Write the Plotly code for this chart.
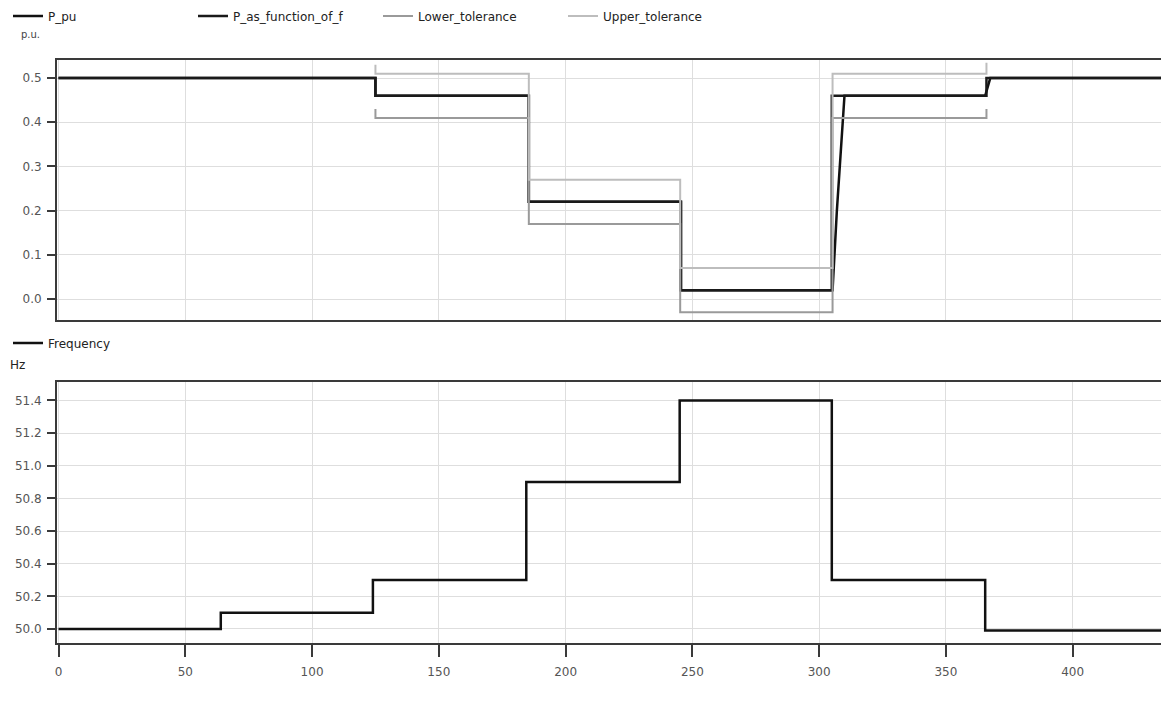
import plotly.graph_objects as go
from plotly.subplots import make_subplots

# ---- data ----
t_p_expected = [0, 125, 185.5, 245.5, 305, 366, 438]
p_expected = [0.5, 0.46, 0.22, 0.02, 0.46, 0.5, 0.5]

t_p_meas = [0, 125, 125, 185.5, 185.5, 245.5, 245.5, 305.3, 307, 310, 365.5, 367.5, 438]
p_meas = [0.5, 0.5, 0.46, 0.46, 0.22, 0.22, 0.02, 0.02, 0.2, 0.46, 0.46, 0.5, 0.5]

t_tol = [125, 125, 185.5, 185.5, 245.2, 245.2, 305.3, 305.3, 366, 366]
upper_tol = [0.53, 0.51, 0.51, 0.27, 0.27, 0.07, 0.07, 0.51, 0.51, 0.535]
lower_tol = [0.43, 0.41, 0.41, 0.17, 0.17, -0.03, -0.03, 0.41, 0.41, 0.43]

t_f = [0, 64, 124, 184.5, 245, 305, 365.5, 438]
freq = [50.0, 50.1, 50.3, 50.9, 51.4, 50.3, 49.99, 49.99]

x_ticks = [0, 50, 100, 150, 200, 250, 300, 350, 400]
p_ticks = [0.0, 0.1, 0.2, 0.3, 0.4, 0.5]
p_tick_text = ["0.0", "0.1", "0.2", "0.3", "0.4", "0.5"]
f_ticks = [50.0, 50.2, 50.4, 50.6, 50.8, 51.0, 51.2, 51.4]
f_tick_text = ["50.0", "50.2", "50.4", "50.6", "50.8", "51.0", "51.2", "51.4"]

# page body has an 8px margin; the figure is sized to the visible area
OFF = 8
W, H = 1169 - OFF, 706 - OFF
L = 57 - OFF
T = 40
PW = W - L
PH = H - T

def py(Y):
    """screen pixel Y -> paper y"""
    return 1 - (Y - OFF - T) / PH

def pxx(X):
    """screen pixel X -> paper x"""
    return (X - OFF - L) / PW

FONT = "DejaVu Sans"
AX = "#3a3a3a"
GRID = "#dedede"
TICKC = "#555555"

fig = make_subplots(rows=2, cols=1)

fig.add_trace(go.Scatter(x=t_p_meas, y=p_meas, mode="lines", name="P_pu",
                         line=dict(color="#111111", width=2.5), legend="legend"), row=1, col=1)
fig.add_trace(go.Scatter(x=t_p_expected, y=p_expected, mode="lines", name="P_as_function_of_f",
                         line=dict(color="#1a1a1a", width=2.5, shape="hv"), legend="legend"), row=1, col=1)
fig.add_trace(go.Scatter(x=t_tol, y=lower_tol, mode="lines", name="Lower_tolerance",
                         line=dict(color="#9a9a9a", width=2), legend="legend"), row=1, col=1)
fig.add_trace(go.Scatter(x=t_tol, y=upper_tol, mode="lines", name="Upper_tolerance",
                         line=dict(color="#bdbdbd", width=2), legend="legend"), row=1, col=1)
fig.add_trace(go.Scatter(x=t_f, y=freq, mode="lines", name="Frequency",
                         line=dict(color="#111111", width=2.5, shape="hv"), legend="legend2"), row=2, col=1)

xcommon = dict(range=[-0.6, 438], showline=True, linecolor=AX, linewidth=2, mirror=True,
               showgrid=True, gridcolor=GRID, gridwidth=1, tickvals=x_ticks, zeroline=False,
               domain=[0, 1], automargin=False)
ycommon = dict(showline=True, linecolor=AX, linewidth=2, ticks="outside", ticklen=8, tickwidth=2,
               tickcolor=AX, showgrid=True, gridcolor=GRID, zeroline=False, automargin=False,
               ticklabelstandoff=3,
               tickfont=dict(family=FONT, size=12, color=TICKC))
fig.update_layout(
    xaxis=dict(**xcommon, showticklabels=False, ticks=""),
    xaxis2=dict(**xcommon, ticks="outside", ticklen=12, tickwidth=2, tickcolor=AX,
                ticklabelstandoff=5,
                tickfont=dict(family=FONT, size=12, color=TICKC)),
    yaxis=dict(**ycommon, domain=[py(320), py(60)], range=[-0.0475, 0.541],
               tickvals=p_ticks, ticktext=p_tick_text),
    yaxis2=dict(**ycommon, domain=[py(643), py(382)], range=[49.914, 51.513],
                tickvals=f_ticks, ticktext=f_tick_text),
    width=W, height=H,
    margin=dict(l=L, r=0, t=T, b=0, autoexpand=False),
    plot_bgcolor="white", paper_bgcolor="white",
    font=dict(family=FONT, size=12, color="#222"),
    legend=dict(orientation="h", x=pxx(8), y=py(16), xanchor="left", yanchor="middle",
                entrywidth=140, entrywidthmode="pixels", bgcolor="rgba(0,0,0,0)",
                font=dict(family=FONT, size=12, color="#222"), itemwidth=30),
    legend2=dict(orientation="h", x=pxx(8), y=py(343), xanchor="left", yanchor="middle",
                 bgcolor="rgba(0,0,0,0)", font=dict(family=FONT, size=12, color="#222"), itemwidth=30),
    showlegend=True,
)

fig.add_annotation(text="p.u.", x=pxx(19), y=py(34), xref="paper", yref="paper",
                   xanchor="left", yanchor="middle", showarrow=False,
                   font=dict(family=FONT, size=10, color="#444"))
fig.add_annotation(text="Hz", x=pxx(8), y=py(365), xref="paper", yref="paper",
                   xanchor="left", yanchor="middle", showarrow=False,
                   font=dict(family=FONT, size=12, color="#222"))

fig.write_html("out.html")
